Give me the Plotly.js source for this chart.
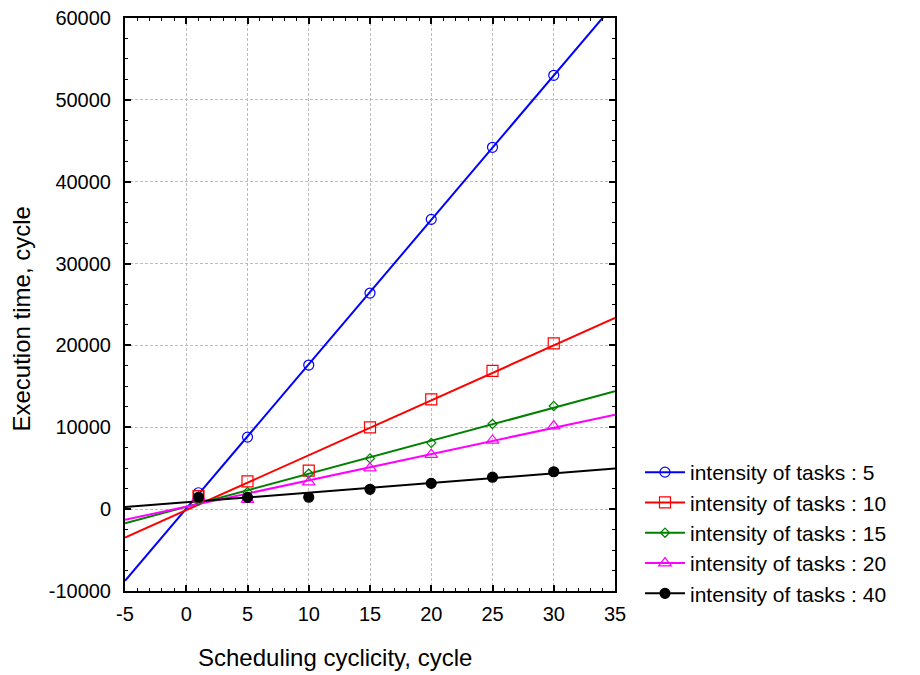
<!DOCTYPE html>
<html>
<head>
<meta charset="utf-8">
<script src="https://cdn.plot.ly/plotly-3.0.1.min.js"></script>
<style>html,body{margin:0;padding:0;background:#fff;}#chart{width:920px;height:675px;}</style>
</head>
<body>
<div id="chart"></div>
<script>
// Scheduling cyclicity (x) values
const cyclicity = [1, 5, 10, 15, 20, 25, 30];
// Execution time per intensity of tasks
const intensity5  = [2000, 8800, 17600, 26400, 35400, 44200, 53000];
const intensity10 = [1600, 3400, 4700, 10000, 13400, 16900, 20250];
const intensity15 = [1000, 2100, 4350, 6200, 8100, 10400, 12600];
const intensity20 = [1500, 1150, 3300, 5000, 6650, 8400, 10150];
const intensity40 = [1450, 1430, 1450, 2420, 3150, 3900, 4570];
const seriesNames = ["intensity of tasks : 5", "intensity of tasks : 10", "intensity of tasks : 15", "intensity of tasks : 20", "intensity of tasks : 40"];
const seriesValues = [intensity5, intensity10, intensity15, intensity20, intensity40];
const xTickVals = [-5, 0, 5, 10, 15, 20, 25, 30, 35];
const xTickText = ["-5", "0", "5", "10", "15", "20", "25", "30", "35"];
const yTickVals = [-10000, 0, 10000, 20000, 30000, 40000, 50000, 60000];
const yTickText = ["-10000", "0", "10000", "20000", "30000", "40000", "50000", "60000"];
const xTitle = "Scheduling cyclicity, cycle";
const yTitle = "Execution time, cycle";
const xRange = [-5, 35];
const yRange = [-10000, 60000];

const colors = ["#0000ff", "#ff0000", "#008000", "#ff00ff", "#000000"];
const symbols = ["circle-open", "square-open", "diamond-open", "triangle-up-open", "circle"];
const sizes = [10, 11, 7, 11, 10];

function fit(xs, ys) {
  const n = xs.length;
  const mx = xs.reduce((a, b) => a + b, 0) / n;
  const my = ys.reduce((a, b) => a + b, 0) / n;
  let sxy = 0, sxx = 0;
  for (let i = 0; i < n; i++) { sxy += (xs[i] - mx) * (ys[i] - my); sxx += (xs[i] - mx) ** 2; }
  const b = sxy / sxx;
  return [b, my - b * mx];
}

const traces = [];
// fitted lines
seriesValues.forEach((ys, i) => {
  const [b, a] = fit(cyclicity, ys);
  traces.push({
    x: xRange, y: xRange.map(x => a + b * x),
    mode: "lines", line: {color: colors[i], width: 2},
    showlegend: false, hoverinfo: "skip"
  });
});
// data points
seriesValues.forEach((ys, i) => {
  traces.push({
    x: cyclicity, y: ys, mode: "markers", showlegend: false,
    marker: {symbol: symbols[i], size: sizes[i], color: colors[i], line: {color: colors[i], width: 1.2}}
  });
});
// legend entries (line + marker sample)
seriesValues.forEach((ys, i) => {
  traces.push({
    x: [null], y: [null], name: seriesNames[i], mode: "lines+markers",
    line: {color: colors[i], width: 2},
    marker: {symbol: symbols[i], size: sizes[i], color: colors[i], line: {color: colors[i], width: 1.2}},
    showlegend: true
  });
});

const fam = "Liberation Sans, Arial, sans-serif";
const layout = {
  width: 920, height: 675,
  margin: {l: 125, r: 305, t: 18, b: 84},
  paper_bgcolor: "#fff", plot_bgcolor: "#fff",
  font: {family: fam, size: 20, color: "#000"},
  showlegend: true,
  legend: {x: 1.051, y: 0.2426, xanchor: "left", yanchor: "top",
           font: {family: fam, size: 21, color: "#000"},
           tracegroupgap: 0, itemwidth: 40, bgcolor: "rgba(0,0,0,0)"},
  xaxis: {
    range: xRange, tickmode: "array", tickvals: xTickVals, ticktext: xTickText,
    showline: true, linecolor: "#000", linewidth: 2, mirror: "ticks",
    ticks: "inside", ticklen: 6, tickwidth: 2, tickcolor: "#000",
    minor: {dtick: 1, tick0: 0, ticks: "inside", ticklen: 3, tickwidth: 1, tickcolor: "#000", showgrid: false},
    showgrid: true, gridcolor: "#bdbdbd", griddash: "3px,2px", gridwidth: 1,
    zeroline: false, ticklabelstandoff: 4,
    tickfont: {family: fam, size: 20, color: "#000"}
  },
  yaxis: {
    range: yRange, tickmode: "array", tickvals: yTickVals, ticktext: yTickText,
    showline: true, linecolor: "#000", linewidth: 2, mirror: "ticks",
    ticks: "inside", ticklen: 6, tickwidth: 2, tickcolor: "#000",
    minor: {dtick: 2500, tick0: 0, ticks: "inside", ticklen: 3, tickwidth: 1, tickcolor: "#000", showgrid: false},
    showgrid: true, gridcolor: "#bdbdbd", griddash: "3px,2px", gridwidth: 1,
    zeroline: false, ticklabelstandoff: 8,
    tickfont: {family: fam, size: 20, color: "#000"}
  },
  annotations: [
    {text: xTitle, xref: "paper", yref: "paper", x: 0.4286, y: -0.1169, xanchor: "center", yanchor: "middle",
     showarrow: false, font: {family: fam, size: 24, color: "#000"}},
    {text: yTitle, xref: "paper", yref: "paper", x: -0.2102, y: 0.4738, xanchor: "center", yanchor: "middle",
     textangle: -90, showarrow: false, font: {family: fam, size: 24, color: "#000"}}
  ]
};
Plotly.newPlot("chart", traces, layout, {displayModeBar: false, staticPlot: true});
</script>
</body>
</html>
